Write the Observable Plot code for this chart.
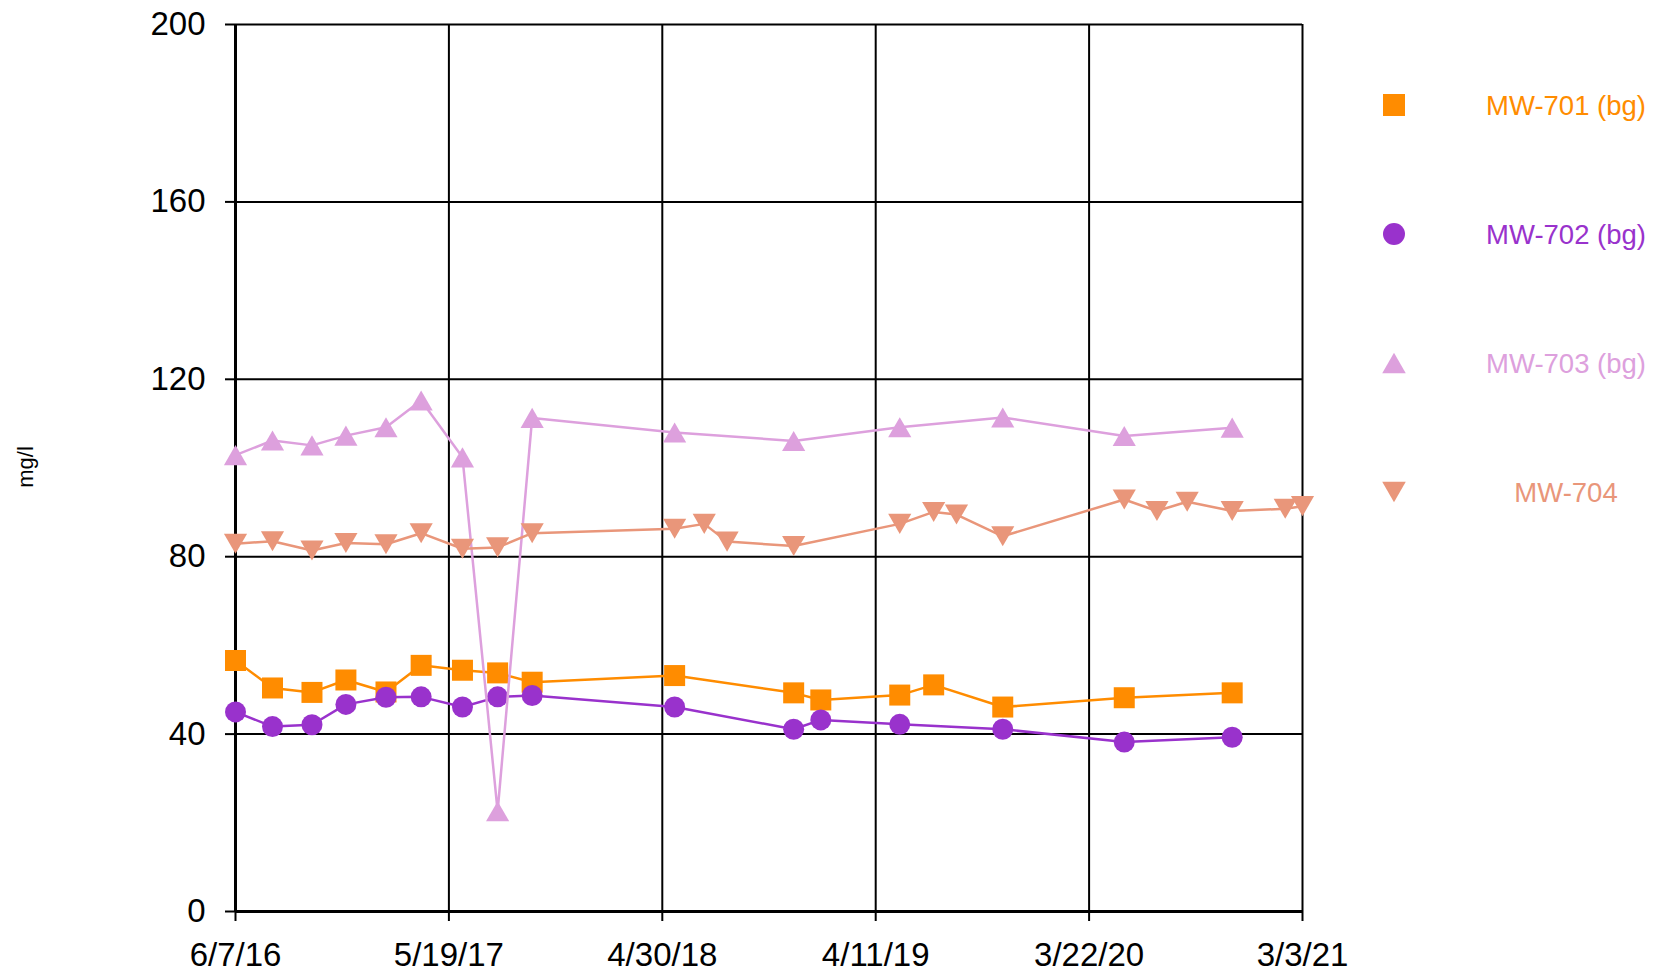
<!DOCTYPE html>
<html><head><meta charset="utf-8">
<script src="https://cdn.jsdelivr.net/npm/d3@7"></script>
<script src="https://cdn.jsdelivr.net/npm/@observablehq/plot@0.6"></script>
<style>
body{margin:0;background:#fff;}
#chart{position:relative;width:1660px;height:974px;}
</style></head><body><div id="chart"></div>
<script>
// ---- data ----
const seriesNames = ["MW-701 (bg)", "MW-702 (bg)", "MW-703 (bg)", "MW-704"];
const seriesColors = ["#FF8C00", "#9932CC", "#DDA0DD", "#E9967A"];

const xTickDates = ["2016-06-07", "2017-05-19", "2018-04-30", "2019-04-11", "2020-03-22", "2021-03-03"];
const yTicks = [0, 40, 80, 120, 160, 200];
const yTitle = "mg/l";

const dates701 = ["2016-06-07","2016-08-06","2016-10-09","2016-12-03","2017-02-06","2017-04-04","2017-06-10","2017-08-06","2017-10-01","2018-05-20","2018-11-29","2019-01-12","2019-05-20","2019-07-14","2019-11-03","2020-05-18","2020-11-09"];
const values701 = [56.6, 50.4, 49.4, 52.2, 49.5, 55.5, 54.4, 53.8, 51.7, 53.2, 49.3, 47.7, 48.8, 51.1, 46.1, 48.2, 49.3];

const dates702 = ["2016-06-07","2016-08-06","2016-10-09","2016-12-03","2017-02-06","2017-04-04","2017-06-10","2017-08-06","2017-10-01","2018-05-20","2018-11-29","2019-01-12","2019-05-20","2019-11-03","2020-05-18","2020-11-09"];
const values702 = [45.0, 41.7, 42.1, 46.7, 48.3, 48.4, 46.1, 48.4, 48.7, 46.1, 41.1, 43.2, 42.2, 41.1, 38.2, 39.3];

const dates703 = ["2016-06-07","2016-08-06","2016-10-09","2016-12-03","2017-02-06","2017-04-04","2017-06-10","2017-08-06","2017-10-01","2018-05-20","2018-11-29","2019-05-20","2019-11-03","2020-05-18","2020-11-09"];
const values703 = [102.9, 106.2, 105.1, 107.3, 109.2, 115.2, 102.4, 22.6, 111.3, 108.0, 106.1, 109.2, 111.4, 107.2, 109.1];

const dates704 = ["2016-06-07","2016-08-06","2016-10-09","2016-12-03","2017-02-06","2017-04-04","2017-06-10","2017-08-06","2017-10-01","2018-05-20","2018-07-07","2018-08-13","2018-11-29","2019-05-20","2019-07-14","2019-08-20","2019-11-03","2020-05-18","2020-07-10","2020-08-28","2020-11-09","2021-02-03","2021-03-03"];
const values704 = [82.9, 83.5, 81.4, 83.1, 82.8, 85.3, 81.8, 82.1, 85.3, 86.3, 87.4, 83.4, 82.4, 87.4, 90.1, 89.5, 84.6, 92.9, 90.3, 92.4, 90.3, 90.8, 91.4];

// ---- build table ----
const parse = s => new Date(s + "T00:00:00Z");
const seriesDates = [dates701, dates702, dates703, dates704];
const seriesValues = [values701, values702, values703, values704];
const rows = [];
seriesNames.forEach((name, k) => {
  seriesDates[k].forEach((d, i) => rows.push({series: name, date: parse(d), value: seriesValues[k][i]}));
});
const xTicks = xTickDates.map(parse);

// ---- symbols (bbox-centred triangles like the spreadsheet markers) ----
const triUp = {draw(c, s) { const w = Math.sqrt(s * 4 / Math.sqrt(3)), h = w * Math.sqrt(3) / 2;
  c.moveTo(0, -h / 2); c.lineTo(w / 2, h / 2); c.lineTo(-w / 2, h / 2); c.closePath(); }};
const triDown = {draw(c, s) { const w = Math.sqrt(s * 4 / Math.sqrt(3)), h = w * Math.sqrt(3) / 2;
  c.moveTo(0, h / 2); c.lineTo(w / 2, -h / 2); c.lineTo(-w / 2, -h / 2); c.closePath(); }};
const seriesSymbols = [d3.symbolSquare, d3.symbolCircle, triUp, triDown];
const seriesR = [11.85, 10.5, 8.6, 8.6];

const fmt = d => `${d.getUTCMonth() + 1}/${d.getUTCDate()}/${String(d.getUTCFullYear()).slice(2)}`;

const seriesMarks = seriesNames.flatMap((name, k) => {
  const data = rows.filter(r => r.series === name);
  return [
    Plot.line(data, {x: "date", y: "value", stroke: seriesColors[k], strokeWidth: 2.5}),
    Plot.dot(data, {x: "date", y: "value", fill: seriesColors[k], stroke: "none", symbol: () => seriesSymbols[k], r: seriesR[k]})
  ];
});

const svg = Plot.plot({
  width: 1660,
  height: 974,
  marginLeft: 235,
  marginRight: 358,
  marginTop: 24,
  marginBottom: 63,
  style: {fontFamily: "'Liberation Sans', Arial, sans-serif", background: "#fff", color: "#000"},
  x: {type: "utc", domain: [xTicks[0], xTicks[xTicks.length - 1]]},
  y: {domain: [0, 200]},
  marks: [
    Plot.gridY(yTicks, {stroke: "#000", strokeOpacity: 1, strokeWidth: 2}),
    Plot.gridX(xTicks, {stroke: "#000", strokeOpacity: 1, strokeWidth: 2}),
    Plot.axisY(yTicks, {tickSize: 10, tickPadding: 20, fontSize: 33, strokeWidth: 2, label: null}),
    Plot.axisX(xTicks, {tickSize: 10, tickPadding: 21, fontSize: 33, strokeWidth: 2, tickFormat: fmt, label: null}),
    Plot.ruleX([xTicks[0]], {stroke: "#000", strokeWidth: 3}),
    Plot.ruleY([0], {stroke: "#000", strokeWidth: 3}),
    ...seriesMarks
  ]
});

// ---- y title and legend ----
const s = d3.select(svg);
s.append("text")
  .attr("transform", "translate(25,467) rotate(-90)")
  .attr("text-anchor", "middle")
  .attr("dominant-baseline", "central")
  .attr("font-size", 22)
  .attr("fill", "#000")
  .text(yTitle);

const legendSizes = [484, 380, 240, 240];
const lg = s.append("g");
seriesNames.forEach((name, k) => {
  const yy = 105 + k * 129;
  lg.append("path")
    .attr("transform", `translate(1394,${yy})`)
    .attr("d", d3.symbol(seriesSymbols[k], legendSizes[k])())
    .attr("fill", seriesColors[k]);
  lg.append("text")
    .attr("x", 1566).attr("y", yy)
    .attr("text-anchor", "middle")
    .attr("dominant-baseline", "central")
    .attr("font-size", 27.5)
    .attr("fill", seriesColors[k])
    .text(name);
});

document.getElementById("chart").appendChild(svg);
</script>
</body></html>
